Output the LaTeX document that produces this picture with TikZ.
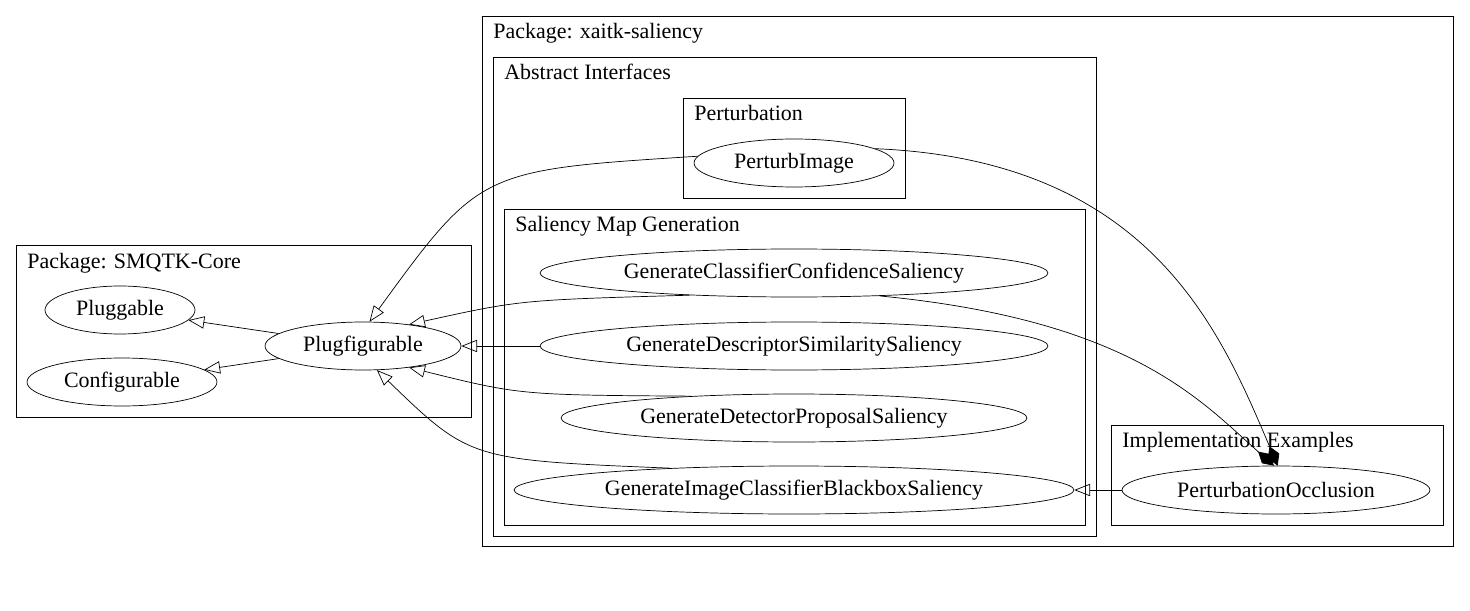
\documentclass[tikz,border=0pt]{standalone}
\usepackage{fontspec}
\setmainfont{Liberation Serif}
\usetikzlibrary{shapes.geometric,arrows.meta}

\tikzset{
  cls/.style={ellipse, draw, inner sep=0pt, minimum height=0.96cm, font=\fontsize{12.5}{14}\selectfont},
  grp/.style={draw},
  grplabel/.style={anchor=north west, inner sep=0pt, font=\fontsize{12.5}{14}\selectfont},
  inherit/.style={-{Triangle[open,length=9pt,width=7pt]}},
  owns/.style={-{Diamond[length=12pt,width=7pt]}},
}

\begin{document}
\begin{tikzpicture}[x=0.02cm,y=-0.02cm]
  \useasboundingbox (0,0) rectangle (1470,611);

  % clusters
  \draw[grp] (16,245) rectangle (471,417);
  \node[grplabel] (lcore) at (27,253) {Package: SMQTK-Core};
  \draw[grp] (482,16) rectangle (1453,546);
  \node[grplabel] (lxaitk) at (493,23) {Package: xaitk-saliency};
  \draw[grp] (493,57) rectangle (1096,536);
  \node[grplabel] (labs) at (504,64) {Abstract Interfaces};
  \draw[grp] (683,98) rectangle (905,198);
  \node[grplabel] (lpert) at (694,105) {Perturbation};
  \draw[grp] (504,209) rectangle (1085,525);
  \node[grplabel] (lsal) at (515,216) {Saliency Map Generation};
  \draw[grp] (1111,425) rectangle (1443,525);
  \node[grplabel] (limpl) at (1122,432) {Implementation Examples};

  % classes
  \node[cls, minimum width=3.0cm] (pluggable) at (120,310) {Pluggable};
  \node[cls, minimum width=3.8cm] (configurable) at (122,382) {Configurable};
  \node[cls, minimum width=3.92cm] (plugfig) at (363,346) {Plugfigurable};
  \node[cls, minimum width=4.0cm] (perturb) at (794,163) {PerturbImage};
  \node[cls, minimum width=10.16cm] (gccs) at (794,273) {GenerateClassifierConfidenceSaliency};
  \node[cls, minimum width=10.16cm] (gdss) at (794,346) {GenerateDescriptorSimilaritySaliency};
  \node[cls, minimum width=9.32cm] (gdps) at (794,418) {GenerateDetectorProposalSaliency};
  \node[cls, minimum width=11.2cm] (gicbs) at (794,490) {GenerateImageClassifierBlackboxSaliency};
  \node[cls, minimum width=6.16cm] (occl) at (1276,490) {PerturbationOcclusion};

  % inheritance
  \draw[inherit] (plugfig) -- (pluggable);
  \draw[inherit] (plugfig) -- (configurable);
  \draw[inherit] (gdss) -- (plugfig);
  \draw[inherit] (gccs.192) .. controls (520,300) .. (plugfig.25);
  \draw[inherit] (gdps.168) .. controls (520,395) .. (plugfig.335);
  \draw[inherit] (gicbs.170) .. controls (470,460) .. (plugfig.300);
  \draw[inherit] (perturb.176) .. controls (480,170) .. (plugfig.75);
  \draw[inherit] (occl) -- (gicbs);

  % composition
  \draw[owns] (perturb.10) .. controls (1150,160) and (1220,330) .. (occl.86);
  \draw[owns] (gccs.-15) .. controls (1130,320) and (1200,400) .. (occl.95);
\end{tikzpicture}
\end{document}
